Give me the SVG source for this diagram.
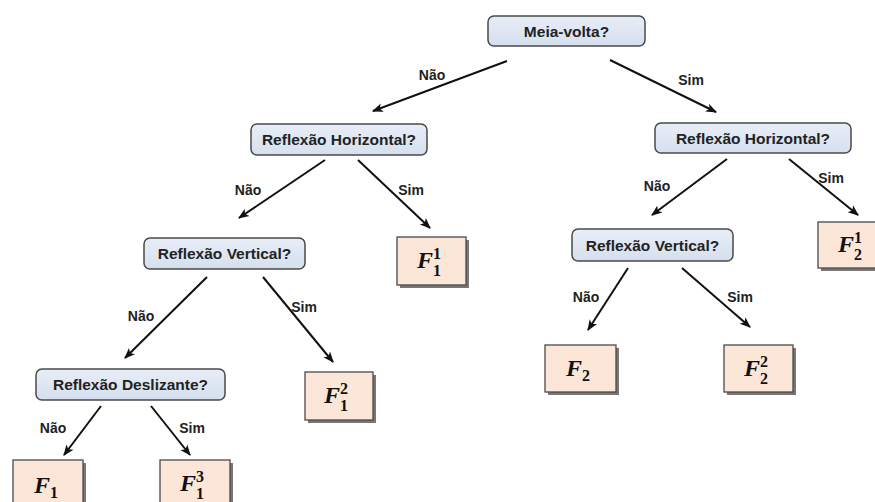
<svg xmlns="http://www.w3.org/2000/svg" width="875" height="502" viewBox="0 0 875 502">
<defs>
<linearGradient id="gq" x1="0" y1="0" x2="0" y2="1">
<stop offset="0" stop-color="#e8eef7"/>
<stop offset="1" stop-color="#d5dfee"/>
</linearGradient>
<marker id="ah" viewBox="0 0 10 10" refX="9" refY="5" markerWidth="11" markerHeight="11" markerUnits="userSpaceOnUse" orient="auto">
<path d="M0,1 L10,5 L0,9 L2.5,5 Z" fill="#111"/>
</marker>
</defs>
<style>
.q rect.b{fill:url(#gq);stroke:#4a4a4a;stroke-width:1.5}
.q text{font-family:"Liberation Sans",Arial,sans-serif;font-weight:bold;font-size:15.5px;fill:#222;text-anchor:middle}
.l rect.b{fill:#fce6d8;stroke:#4a4a4a;stroke-width:1.3}
.l rect.s{fill:#777}
.f{font-family:"Liberation Serif","Times New Roman",serif;font-weight:bold;font-style:italic;font-size:24px;fill:#111}
.d{font-family:"Liberation Serif","Times New Roman",serif;font-weight:bold;font-size:16px;fill:#111}
.c line{stroke:#111;stroke-width:2;marker-end:url(#ah)}
.c text{font-family:"Liberation Sans",Arial,sans-serif;font-weight:bold;font-size:14px;fill:#222;text-anchor:middle}
</style>
<rect width="875" height="502" fill="#fff"/>

<g id="connectors" class="c">
<line x1="507" y1="61" x2="373" y2="111"/><text x="432" y="80">Não</text>
<line x1="610" y1="60" x2="716" y2="112"/><text x="691" y="85">Sim</text>
<line x1="325" y1="160" x2="239" y2="218"/><text x="248" y="195">Não</text>
<line x1="358" y1="160" x2="430" y2="228"/><text x="411" y="195">Sim</text>
<line x1="207" y1="277" x2="125" y2="358"/><text x="141" y="321">Não</text>
<line x1="263" y1="277" x2="333" y2="362"/><text x="304" y="312">Sim</text>
<line x1="101" y1="406" x2="64" y2="455"/><text x="53" y="433">Não</text>
<line x1="151" y1="406" x2="190" y2="455"/><text x="192" y="433">Sim</text>
<line x1="727" y1="159" x2="652" y2="215"/><text x="657" y="191">Não</text>
<line x1="789" y1="159" x2="858" y2="215"/><text x="831" y="183">Sim</text>
<line x1="628" y1="268" x2="588" y2="330"/><text x="586" y="302">Não</text>
<line x1="682" y1="268" x2="750" y2="327"/><text x="740" y="302">Sim</text>
</g>

<g id="meia-volta" class="q"><rect class="b" x="488" y="16" width="157" height="30" rx="6"/><text x="566.5" y="36.5">Meia-volta?</text></g>
<g id="refl-horiz-esq" class="q"><rect class="b" x="251" y="124" width="176" height="31" rx="6"/><text x="339" y="145">Reflexão Horizontal?</text></g>
<g id="refl-horiz-dir" class="q"><rect class="b" x="655" y="123" width="196" height="30" rx="6"/><text x="753" y="143.5">Reflexão Horizontal?</text></g>
<g id="refl-vert-esq" class="q"><rect class="b" x="144" y="238" width="161" height="31" rx="6"/><text x="224.5" y="259">Reflexão Vertical?</text></g>
<g id="refl-vert-dir" class="q"><rect class="b" x="572" y="229" width="161" height="32" rx="6"/><text x="652.5" y="250.5">Reflexão Vertical?</text></g>
<g id="refl-desl" class="q"><rect class="b" x="36" y="369" width="189" height="31" rx="6"/><text x="130.5" y="390">Reflexão Deslizante?</text></g>

<g id="F1-1" class="l"><rect class="s" x="400" y="240" width="69" height="48"/><rect class="b" x="397" y="237" width="69" height="48"/>
<text class="f" x="417" y="268">F</text><text class="d" x="433" y="259">1</text><text class="d" x="433" y="276">1</text></g>
<g id="F1-2" class="l"><rect class="s" x="308" y="375" width="68" height="48"/><rect class="b" x="305" y="372" width="68" height="48"/>
<text class="f" x="324" y="403">F</text><text class="d" x="340" y="394">2</text><text class="d" x="340" y="411">1</text></g>
<g id="F1" class="l"><rect class="s" x="16" y="463" width="70" height="48"/><rect class="b" x="13" y="460" width="70" height="48"/>
<text class="f" x="34" y="493">F</text><text class="d" x="50" y="498">1</text></g>
<g id="F1-3" class="l"><rect class="s" x="163" y="463" width="70" height="48"/><rect class="b" x="160" y="460" width="70" height="48"/>
<text class="f" x="180" y="491">F</text><text class="d" x="196" y="482">3</text><text class="d" x="196" y="499">1</text></g>
<g id="F2" class="l"><rect class="s" x="548" y="348" width="71" height="47"/><rect class="b" x="545" y="345" width="71" height="47"/>
<text class="f" x="566" y="376">F</text><text class="d" x="582" y="381">2</text></g>
<g id="F2-2" class="l"><rect class="s" x="727" y="348" width="69" height="47"/><rect class="b" x="724" y="345" width="69" height="47"/>
<text class="f" x="744" y="376">F</text><text class="d" x="760" y="367">2</text><text class="d" x="760" y="384">2</text></g>
<g id="F2-1" class="l"><rect class="s" x="821" y="225" width="70" height="46"/><rect class="b" x="818" y="222" width="70" height="46"/>
<text class="f" x="838" y="252">F</text><text class="d" x="854" y="243">1</text><text class="d" x="854" y="260">2</text></g>
</svg>
